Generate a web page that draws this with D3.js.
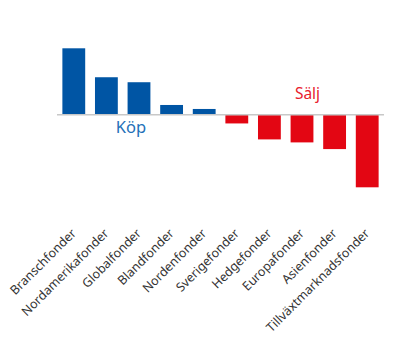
<!DOCTYPE html>
<html><head><meta charset="utf-8">
<script src="https://cdn.jsdelivr.net/npm/d3@7"></script>
<style>html,body{margin:0;padding:0;background:#fff;}</style>
</head><body><div id="chart"></div>
<script>
const categories = ["Branschfonder","Nordamerikafonder","Globalfonder","Blandfonder","Nordenfonder","Sverigefonder","Hedgefonder","Europafonder","Asienfonder","Tillväxtmarknadsfonder"];
const values = [66.5, 37.5, 32.5, 9.7, 5.7, -8.8, -24.8, -27.8, -34.5, -72.8];
const buyLabel = "Köp";
const sellLabel = "Sälj";

const W = 400, H = 344;
const blue = "#0055a4", red = "#e30613";
const svg = d3.select("#chart").append("svg").attr("width", W).attr("height", H);

const x = d3.scaleBand().domain(categories).range([57, 384]).paddingInner(0.3).paddingOuter(0.165);
const y = d3.scaleLinear().domain([-72.8, 66.5]).range([187.3, 48.3]);

svg.selectAll("rect.bar").data(values).enter().append("rect")
  .attr("x", (d, i) => x(categories[i]))
  .attr("width", x.bandwidth())
  .attr("y", d => d >= 0 ? y(d) : y(0))
  .attr("height", d => Math.abs(y(d) - y(0)))
  .attr("fill", d => d >= 0 ? blue : red);

svg.append("line").attr("x1", 57).attr("x2", 384).attr("y1", y(0)).attr("y2", y(0))
  .attr("stroke", "#c8c8c8").attr("stroke-width", 1.5);

const xAxis = d3.axisBottom(x).tickSize(0).tickPadding(0);
const gx = svg.append("g").attr("transform", `translate(0,234)`).call(xAxis);
gx.select(".domain").remove();
gx.selectAll("text")
  .attr("font-family", "'Noto Sans', sans-serif").attr("font-size", 12.5).attr("fill", "#333")
  .attr("text-anchor", "end").attr("dy", 0).attr("dx", 0)
  .attr("transform", "translate(3,0) rotate(-45)");

svg.append("text").attr("x", 131).attr("y", 132.5)
  .attr("text-anchor", "middle").attr("font-family", "'Noto Sans', sans-serif").attr("font-size", 16.5)
  .attr("fill", "#2370b8").text(buyLabel);
svg.append("text").attr("x", 307.5).attr("y", 99)
  .attr("text-anchor", "middle").attr("font-family", "'Noto Sans', sans-serif").attr("font-size", 15.5)
  .attr("fill", "#e8202e").text(sellLabel);
</script></body></html>
